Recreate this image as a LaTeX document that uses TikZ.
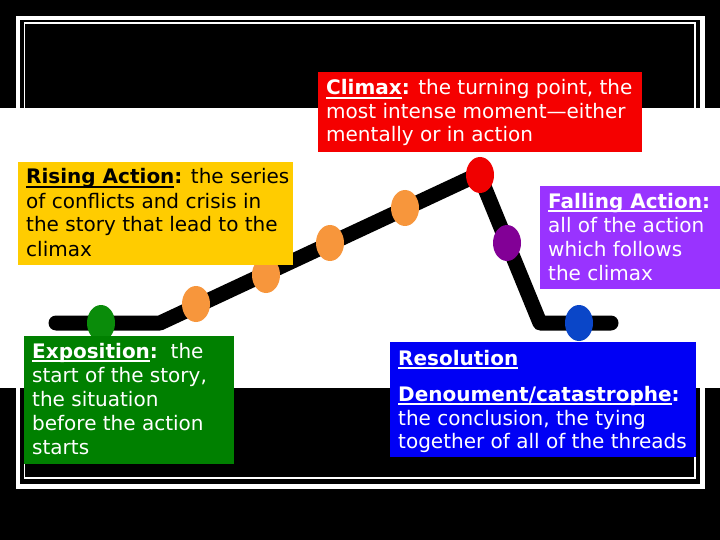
\documentclass[tikz,border=0pt]{standalone}
\usepackage{fontspec}
\setmainfont{DejaVu Sans}
\usetikzlibrary{shapes.geometric}
\definecolor{cred}{RGB}{245,0,0}
\definecolor{cyellow}{RGB}{255,204,0}
\definecolor{cgreen}{RGB}{0,128,0}
\definecolor{cpurple}{RGB}{153,51,255}
\definecolor{cblue}{RGB}{0,0,245}
\definecolor{dgreen}{RGB}{10,140,10}
\definecolor{dorange}{RGB}{247,150,60}
\definecolor{dred}{RGB}{240,0,0}
\definecolor{dpurple}{RGB}{130,0,150}
\definecolor{dblue}{RGB}{10,70,200}
\newsavebox{\ulbx}
\newcommand{\ulw}[1]{\sbox{\ulbx}{#1}\rlap{\rule[-4pt]{\wd\ulbx}{1.7pt}}\usebox{\ulbx}}
\tikzset{
  txt/.style={anchor=base west, inner sep=0pt, font=\fontsize{20}{24}\selectfont},
  wtxt/.style={txt, text=white},
  btxt/.style={txt, text=black},
  panel/.style={rectangle, anchor=north west, inner sep=0pt, draw=none},
  dot/.style={ellipse, minimum width=28pt, minimum height=36pt, inner sep=0pt, draw=none},
  plot/.style={line width=15pt, black, line cap=round, line join=round}
}
\begin{document}
\begin{tikzpicture}[x=1pt,y=-1pt]
\useasboundingbox (0,0) rectangle (720,540);
\fill[black] (0,0) rectangle (720,540);
% frame
\draw[white, line width=4.5pt] (18,18) rectangle (702.5,486.5);
\draw[white, line width=1.5pt] (24.5,23) rectangle (695,478);
% white band
\fill[white] (0,108) rectangle (720,388);
% plot line
\coordinate (p0) at (56,323);
\coordinate (p1) at (160,323);
\coordinate (p2) at (479,174);
\coordinate (p3) at (540,323);
\coordinate (p4) at (611,323);
\draw[plot] (p0) -- (p1) -- (p2) -- (p3) -- (p4);
% dots
\node[dot, fill=dgreen] (dexp) at (101,323) {};
\node[dot, fill=dorange] (dr1) at (196,304) {};
\node[dot, fill=dorange] (dr2) at (266,275) {};
\node[dot, fill=dorange] (dr3) at (330,243) {};
\node[dot, fill=dorange] (dr4) at (405,208) {};
\node[dot, fill=dred] (dclimax) at (480,175) {};
\node[dot, fill=dpurple] (dfall) at (507,243) {};
\node[dot, fill=dblue] (dres) at (579,323) {};
% panels
\node[panel, fill=cred, minimum width=324pt, minimum height=80pt] (climaxbox) at (318,72) {};
\node[panel, fill=cyellow, minimum width=275pt, minimum height=103pt] (risebox) at (18,162) {};
\node[panel, fill=cgreen, minimum width=210pt, minimum height=128pt] (expbox) at (24,336) {};
\node[panel, fill=cpurple, minimum width=180pt, minimum height=103pt] (fallbox) at (540,186) {};
\node[panel, fill=cblue, minimum width=306pt, minimum height=115pt] (resbox) at (390,342) {};
% climax text
\node[wtxt] (cl1) at (326,95) {\ulw{\bfseries Climax}\textbf{:} the turning point, the};
\node[wtxt] (cl2) at (326,118.5) {most intense moment—either};
\node[wtxt] (cl3) at (326,142) {mentally or in action};
% rising text
\node[btxt] (ri1) at (26,184) {\ulw{\bfseries Rising Action}\textbf{:} the series};
\node[btxt] (ri2) at (26,208) {of conflicts and crisis in};
\node[btxt] (ri3) at (26,232) {the story that lead to the};
\node[btxt] (ri4) at (26,256) {climax};
% exposition text
\node[wtxt] (ex1) at (32,358) {\ulw{\bfseries Exposition}\textbf{:}\ \ the};
\node[wtxt] (ex2) at (32,382) {start of the story,};
\node[wtxt] (ex3) at (32,406.5) {the situation};
\node[wtxt] (ex4) at (32,430.5) {before the action};
\node[wtxt] (ex5) at (32,454) {starts};
% falling text
\node[wtxt] (fa1) at (548,208) {\ulw{\bfseries Falling Action}\textbf{:}};
\node[wtxt] (fa2) at (548,232.5) {all of the action};
\node[wtxt] (fa3) at (548,256.5) {which follows};
\node[wtxt] (fa4) at (548,280) {the climax};
% resolution text
\node[wtxt] (re1) at (398,365) {\ulw{\bfseries Resolution}};
\node[wtxt] (re2) at (398,401) {\ulw{\bfseries Denoument/catastrophe}\textbf{:}};
\node[wtxt] (re3) at (398,425) {the conclusion, the tying};
\node[wtxt] (re4) at (398,448.5) {together of all of the threads};
\end{tikzpicture}
\end{document}
